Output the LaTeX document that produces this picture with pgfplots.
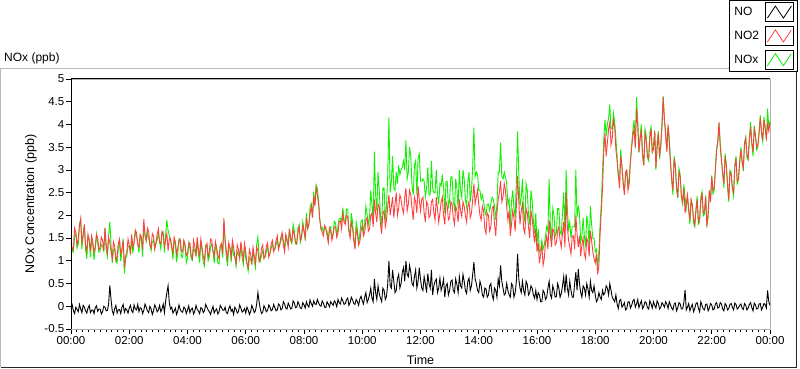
\documentclass[border=0pt]{standalone}
\usepackage{fontspec}
\setmainfont{Liberation Sans}
\usepackage{pgfplots}
\usepackage{pgfplotstable}
\pgfplotsset{compat=1.18}
\definecolor{noc}{RGB}{0,0,0}
\definecolor{notwo}{RGB}{255,64,64}
\definecolor{noxc}{RGB}{16,240,0}
\pgfplotstableread{
t no no2 nox
0 -0.05 1.45 1.40
2.5 0.03 1.22 1.25
5 -0.10 1.30 1.20
7.5 -0.16 1.72 1.56
10 -0.02 1.62 1.60
12.5 -0.07 1.35 1.28
15 -0.12 1.48 1.36
17.5 0.04 1.78 1.82
20 -0.06 1.94 1.88
22.5 -0.14 1.40 1.26
25 0.02 1.55 1.57
27.5 -0.02 1.80 1.78
30 -0.10 1.35 1.25
32.5 -0.15 1.20 1.05
35 -0.04 1.58 1.54
37.5 0.02 1.45 1.47
40 -0.14 1.22 1.08
42.5 -0.09 1.55 1.46
45 -0.08 1.42 1.34
47.5 -0.16 1.18 1.02
50 -0.03 1.30 1.27
52.5 0.01 1.58 1.59
55 -0.11 1.50 1.39
57.5 -0.06 1.25 1.19
60 -0.06 1.28 1.22
62.5 -0.17 1.52 1.35
65 -0.12 1.45 1.33
67.5 0.00 1.22 1.22
70 -0.02 1.73 1.71
72.5 -0.10 1.35 1.25
75 -0.09 1.18 1.09
77.5 0.05 1.52 1.57
80 0.46 1.40 1.86
82.5 0.15 1.20 1.35
85 -0.10 1.05 0.95
87.5 -0.18 1.42 1.24
90 -0.05 1.32 1.27
92.5 0.02 1.00 1.02
95 -0.15 1.10 0.95
97.5 -0.08 1.38 1.30
100 -0.07 1.48 1.41
102.5 -0.16 1.15 0.99
105 -0.02 1.25 1.23
107.5 0.04 1.45 1.49
110 -0.13 0.85 0.72
112.5 -0.05 1.10 1.05
115 -0.08 1.20 1.12
117.5 -0.15 1.48 1.33
120 -0.04 1.35 1.31
122.5 0.02 1.15 1.17
125 -0.10 1.58 1.48
127.5 -0.14 1.30 1.16
130 0.03 1.40 1.43
132.5 -0.06 1.68 1.62
135 -0.08 1.62 1.54
137.5 0.04 1.35 1.39
140 -0.12 1.30 1.18
142.5 -0.03 1.58 1.55
145 -0.05 1.52 1.47
147.5 -0.16 1.25 1.09
150 -0.09 1.92 1.83
152.5 0.05 1.55 1.60
155 -0.02 1.45 1.43
157.5 -0.10 1.72 1.62
160 -0.14 1.65 1.51
162.5 0.00 1.35 1.35
165 -0.06 1.28 1.22
167.5 -0.18 1.60 1.42
170 -0.10 1.55 1.45
172.5 0.03 1.25 1.28
175 -0.03 1.40 1.37
177.5 -0.12 1.58 1.46
180 -0.08 1.70 1.62
182.5 0.02 1.40 1.42
185 -0.12 1.38 1.26
187.5 -0.06 1.65 1.59
190 0.05 1.58 1.63
192.5 -0.14 1.32 1.18
195 0.12 1.45 1.57
197.5 0.30 1.60 1.90
200 0.45 1.22 1.67
202.5 0.08 1.48 1.56
205 -0.06 1.50 1.44
207.5 -0.02 1.30 1.28
210 -0.15 1.18 1.03
212.5 -0.10 1.52 1.42
215 -0.04 1.42 1.38
217.5 -0.18 1.15 0.97
220 -0.10 1.28 1.18
222.5 0.03 1.45 1.48
225 -0.07 1.48 1.41
227.5 -0.12 1.22 1.10
230 -0.13 1.20 1.07
232.5 -0.02 1.45 1.43
235 -0.05 1.36 1.31
237.5 -0.16 1.12 0.96
240 -0.09 1.15 1.06
242.5 0.01 1.38 1.39
245 -0.14 1.40 1.26
247.5 -0.07 1.12 1.05
250 -0.04 1.05 1.01
252.5 -0.17 1.45 1.28
255 -0.11 1.32 1.21
257.5 0.02 1.10 1.12
260 -0.07 1.52 1.45
262.5 -0.10 1.25 1.15
265 -0.16 1.12 0.96
267.5 -0.03 1.48 1.45
270 -0.05 1.28 1.23
272.5 -0.14 1.10 0.96
275 -0.10 0.98 0.88
277.5 0.04 1.30 1.34
280 -0.02 1.38 1.36
282.5 -0.08 1.08 1.00
285 -0.12 1.20 1.08
287.5 -0.18 1.48 1.30
290 -0.08 1.45 1.37
292.5 0.00 1.22 1.22
295 -0.15 1.10 0.95
297.5 -0.09 1.42 1.33
300 -0.06 1.30 1.24
302.5 -0.17 1.12 0.95
305 -0.12 1.05 0.93
307.5 0.02 1.32 1.34
310 -0.03 1.38 1.35
312.5 -0.08 1.15 1.07
315 -0.09 1.94 1.85
317.5 -0.02 1.45 1.43
320 -0.14 1.22 1.08
322.5 -0.16 1.05 0.89
325 -0.05 1.40 1.35
327.5 0.01 1.28 1.29
330 -0.11 1.08 0.97
332.5 -0.07 1.45 1.38
335 -0.18 1.30 1.12
337.5 -0.02 1.10 1.08
340 -0.07 0.95 0.88
342.5 -0.15 1.35 1.20
345 -0.12 1.25 1.13
347.5 0.03 1.05 1.08
350 -0.04 1.42 1.38
352.5 -0.13 1.20 1.07
355 -0.10 1.02 0.92
357.5 -0.05 1.38 1.33
360 -0.15 1.20 1.05
362.5 -0.02 0.95 0.93
365 -0.08 0.85 0.77
367.5 -0.18 1.25 1.07
370 -0.12 1.15 1.03
372.5 0.02 0.92 0.94
375 -0.05 1.30 1.25
377.5 -0.14 1.12 0.98
380 -0.10 0.95 0.85
382.5 0.05 1.30 1.35
385 0.30 1.22 1.52
387.5 0.10 0.98 1.08
390 -0.06 1.05 0.99
392.5 -0.16 1.28 1.12
395 -0.13 1.35 1.22
397.5 0.01 1.05 1.06
400 -0.04 1.12 1.08
402.5 -0.12 1.32 1.20
405 -0.09 1.40 1.31
407.5 0.03 1.08 1.11
410 -0.02 1.18 1.16
412.5 -0.10 1.38 1.28
415 -0.07 1.45 1.38
417.5 0.04 1.20 1.24
420 -0.03 1.28 1.25
422.5 -0.10 1.45 1.35
425 -0.08 1.55 1.47
427.5 0.05 1.25 1.30
430 0.02 1.35 1.37
432.5 -0.08 1.52 1.44
435 -0.05 1.62 1.57
437.5 0.10 1.35 1.45
440 0.05 1.20 1.25
442.5 -0.04 1.58 1.54
445 -0.06 1.48 1.42
447.5 0.07 1.30 1.37
450 0.01 1.70 1.71
452.5 -0.06 1.50 1.44
455 -0.04 1.42 1.38
457.5 0.12 1.68 1.80
460 0.08 1.58 1.66
462.5 -0.03 1.40 1.37
465 -0.02 1.38 1.36
467.5 0.10 1.62 1.72
470 0.04 1.75 1.79
472.5 -0.04 1.45 1.41
475 -0.05 1.55 1.50
477.5 0.08 1.78 1.86
480 0.03 1.65 1.68
482.5 -0.04 1.50 1.46
485 0.10 1.95 2.05
487.5 0.02 1.70 1.72
490 -0.02 1.80 1.78
492.5 0.14 2.05 2.19
495 0.06 2.20 2.26
497.5 0.00 1.95 1.95
500 0.12 2.40 2.52
502.5 0.05 2.20 2.25
505 0.04 2.62 2.66
507.5 0.15 2.45 2.60
510 0.08 2.25 2.33
512.5 0.02 1.90 1.92
515 0.00 1.70 1.70
517.5 0.12 1.62 1.74
520 0.07 1.55 1.62
522.5 -0.02 1.78 1.76
525 -0.03 1.72 1.69
527.5 0.10 1.55 1.65
530 0.05 1.40 1.45
532.5 -0.01 1.72 1.71
535 0.10 1.65 1.75
537.5 0.06 1.45 1.51
540 0.02 1.58 1.60
542.5 0.12 1.75 1.87
545 0.08 1.75 1.83
547.5 -0.01 1.52 1.51
550 0.15 1.62 1.77
552.5 0.08 1.85 1.93
555 0.05 1.88 1.93
557.5 0.18 1.70 1.88
560 0.12 2.05 2.17
562.5 0.04 1.85 1.89
565 0.06 1.80 1.86
567.5 0.14 2.00 2.14
570 0.18 1.95 2.13
572.5 0.02 1.65 1.67
575 0.08 1.50 1.58
577.5 0.20 1.85 2.05
580 0.14 1.72 1.86
582.5 0.06 1.45 1.51
585 0.04 1.25 1.29
587.5 0.15 1.70 1.85
590 0.10 1.60 1.70
592.5 0.02 1.35 1.37
595 0.16 1.42 1.58
597.5 0.22 1.65 1.87
600 0.12 1.78 1.90
602.5 0.05 1.55 1.60
605 0.20 1.62 1.82
607.5 0.30 1.90 2.20
610 0.08 1.95 2.03
612.5 0.15 1.65 1.80
615 0.25 1.70 1.95
617.5 0.40 2.00 2.55
620 0.18 2.05 2.23
622.5 0.10 1.75 1.85
625 0.60 2.35 3.40
627.5 0.30 2.05 2.45
630 0.15 1.85 2.10
632.5 0.45 2.25 2.95
635 0.28 2.20 2.55
637.5 0.18 1.80 2.00
640 0.10 1.60 1.78
642.5 0.40 2.05 2.60
645 0.35 2.10 2.60
647.5 0.15 1.75 1.90
650 0.22 1.90 2.20
652.5 0.50 2.20 2.90
655 1.00 2.45 4.15
657.5 0.45 2.00 2.50
660 0.40 2.20 2.75
662.5 0.80 2.40 3.30
665 0.55 1.95 2.60
667.5 0.30 2.25 2.55
670 0.35 2.50 2.95
672.5 0.60 2.00 2.70
675 0.70 2.15 3.10
677.5 0.40 2.45 2.90
680 0.50 2.35 3.00
682.5 0.75 2.15 3.05
685 0.85 2.05 3.20
687.5 0.55 2.40 3.00
690 1.00 2.60 3.65
692.5 0.70 2.10 2.80
695 0.65 2.25 2.95
697.5 0.90 2.55 3.50
700 0.75 2.45 3.30
702.5 0.50 2.15 2.65
705 0.45 1.90 2.45
707.5 0.65 2.40 3.10
710 0.80 2.30 3.20
712.5 0.40 2.05 2.45
715 0.55 2.65 3.25
717.5 0.85 2.35 3.35
720 0.60 2.10 2.75
722.5 0.40 2.35 2.75
725 0.35 2.40 2.80
727.5 0.65 2.05 2.75
730 0.50 1.85 2.40
732.5 0.30 2.30 2.60
735 0.72 2.25 3.05
737.5 0.50 1.95 2.45
740 0.40 2.00 2.45
742.5 0.80 2.30 3.20
745 0.25 2.35 2.60
747.5 0.45 2.05 2.50
750 0.55 1.90 2.50
752.5 0.60 2.40 3.00
755 0.30 2.15 2.45
757.5 0.40 1.85 2.25
760 0.62 2.05 2.70
762.5 0.35 2.30 2.65
765 0.45 2.40 2.90
767.5 0.60 2.00 2.60
770 0.20 1.80 2.05
772.5 0.45 2.30 2.75
775 0.50 2.20 2.75
777.5 0.25 1.90 2.15
780 0.35 1.95 2.35
782.5 0.55 2.30 2.85
785 0.58 2.25 2.85
787.5 0.35 1.95 2.30
790 0.30 1.80 2.15
792.5 0.60 2.20 2.80
795 0.48 2.10 2.60
797.5 0.30 1.85 2.15
800 0.65 2.35 3.00
802.5 0.45 2.10 2.55
805 0.40 1.98 2.40
807.5 0.70 2.30 3.00
810 0.55 2.20 2.80
812.5 0.35 2.00 2.35
815 0.28 1.85 2.18
817.5 0.55 2.20 2.75
820 0.62 2.30 2.95
822.5 0.35 1.95 2.30
825 0.45 2.05 2.55
827.5 0.70 2.35 3.05
830 0.97 2.70 3.93
832.5 0.60 2.25 2.85
835 0.50 2.40 2.95
837.5 0.35 2.55 2.90
840 0.30 2.25 2.55
842.5 0.55 2.00 2.55
845 0.45 1.90 2.35
847.5 0.25 2.20 2.45
850 0.20 2.10 2.30
852.5 0.40 1.70 2.10
855 0.38 1.60 2.00
857.5 0.20 2.05 2.25
860 0.25 2.00 2.25
862.5 0.45 1.65 2.10
865 0.50 1.75 2.25
867.5 0.25 2.15 2.40
870 0.15 2.20 2.35
872.5 0.40 1.80 2.20
875 0.35 1.55 1.90
877.5 0.20 2.05 2.25
880 0.60 2.35 2.95
882.5 0.45 2.50 2.95
885 0.90 2.75 3.60
887.5 0.55 2.30 2.85
890 0.40 2.40 2.80
892.5 0.25 2.70 2.95
895 0.28 2.55 2.85
897.5 0.50 2.20 2.70
900 0.35 1.90 2.25
902.5 0.25 2.10 2.35
905 0.20 1.55 1.75
907.5 0.50 1.80 2.30
910 0.45 2.10 2.55
912.5 0.20 1.95 2.15
915 0.30 1.65 1.95
917.5 0.55 2.20 2.75
920 1.15 2.86 3.85
922.5 0.60 2.30 2.90
925 0.40 1.80 2.20
927.5 0.30 2.10 2.40
930 0.55 2.25 2.80
932.5 0.35 1.70 2.05
935 0.25 1.60 1.85
937.5 0.55 2.15 2.70
940 0.48 2.05 2.55
942.5 0.25 1.75 2.00
945 0.30 1.50 1.80
947.5 0.45 2.10 2.55
950 0.40 1.95 2.35
952.5 0.25 1.65 1.90
955 0.18 1.40 1.60
957.5 0.35 1.70 2.05
960 0.15 1.20 1.35
962.5 0.30 1.40 1.70
965 0.25 0.95 1.20
967.5 0.10 1.15 1.25
970 0.10 1.35 1.45
972.5 0.35 0.90 1.25
975 0.30 1.05 1.35
977.5 0.15 1.40 1.55
980 0.20 1.55 1.75
982.5 0.40 1.25 1.65
985 0.55 1.90 2.80
987.5 0.25 1.55 1.80
990 0.18 1.30 1.48
992.5 0.45 1.70 2.15
995 0.35 1.65 2.00
997.5 0.20 1.35 1.55
1000 0.22 1.40 1.62
1002.5 0.50 1.65 2.15
1005 0.40 1.75 2.15
1007.5 0.20 1.45 1.65
1010 0.28 1.30 1.58
1012.5 0.45 1.60 2.05
1015 0.65 1.85 2.50
1017.5 0.30 1.30 1.60
1020 0.70 2.50 3.00
1022.5 0.40 1.75 2.15
1025 0.25 1.45 1.70
1027.5 0.55 1.30 1.85
1030 0.35 1.15 1.50
1032.5 0.20 1.55 1.75
1035 0.20 1.55 1.75
1037.5 0.50 1.25 1.75
1040 0.75 2.00 3.00
1042.5 0.35 1.60 1.95
1045 0.82 1.30 2.20
1047.5 0.50 1.55 2.05
1050 0.30 1.10 1.40
1052.5 0.20 1.35 1.55
1055 0.45 1.50 1.95
1057.5 0.40 1.15 1.55
1060 0.25 1.05 1.30
1062.5 0.50 1.50 2.00
1065 0.38 1.40 1.78
1067.5 0.20 1.10 1.30
1070 0.55 1.65 2.20
1072.5 0.35 1.45 1.80
1075 0.30 1.20 1.50
1077.5 0.45 1.05 1.50
1080 0.25 0.95 1.20
1082.5 0.10 1.15 1.25
1085 0.15 0.70 0.85
1087.5 0.30 0.90 1.20
1090 0.20 1.60 1.80
1092.5 0.15 2.10 2.25
1095 0.35 2.60 2.95
1097.5 0.25 3.40 3.65
1100 0.30 3.80 4.10
1102.5 0.45 3.30 3.75
1105 0.40 3.60 4.00
1107.5 0.25 3.90 4.15
1110 0.50 4.05 4.44
1112.5 0.35 3.55 3.90
1115 0.20 3.70 3.90
1117.5 0.15 4.10 4.25
1120 0.10 3.95 4.05
1122.5 0.25 3.45 3.70
1125 0.05 3.20 3.30
1127.5 -0.05 2.90 2.85
1130 0.12 2.60 2.75
1132.5 0.15 3.30 3.45
1135 -0.02 3.10 3.08
1137.5 0.02 2.70 2.72
1140 0.08 2.45 2.55
1142.5 -0.08 2.95 2.87
1145 -0.05 3.00 2.95
1147.5 0.10 2.55 2.65
1150 0.10 2.70 2.85
1152.5 -0.04 3.20 3.16
1155 0.02 3.50 3.55
1157.5 0.12 3.75 3.87
1160 0.15 3.90 4.10
1162.5 -0.02 3.50 3.48
1165 0.05 4.35 4.60
1167.5 0.15 3.95 4.10
1170 -0.03 3.40 3.38
1172.5 0.05 3.70 3.75
1175 0.12 3.85 4.00
1177.5 -0.05 3.35 3.30
1180 0.00 3.10 3.10
1182.5 0.10 3.80 3.90
1185 0.08 3.65 3.75
1187.5 -0.03 3.30 3.27
1190 -0.06 3.25 3.20
1192.5 0.12 3.70 3.82
1195 0.05 3.90 3.95
1197.5 -0.04 3.40 3.36
1200 0.10 3.45 3.55
1202.5 0.02 3.85 3.87
1205 -0.04 3.05 3.00
1207.5 0.12 3.50 3.62
1210 0.06 3.80 3.85
1212.5 -0.06 3.30 3.24
1215 -0.02 3.55 3.52
1217.5 0.08 3.95 4.03
1220 0.04 4.60 4.62
1222.5 -0.02 4.10 4.08
1225 0.10 3.75 3.85
1227.5 0.05 3.40 3.45
1230 -0.05 4.00 3.95
1232.5 0.10 3.60 3.70
1235 0.03 3.15 3.18
1237.5 -0.04 2.80 2.76
1240 -0.08 2.55 2.45
1242.5 0.05 3.25 3.30
1245 0.07 3.05 3.12
1247.5 -0.10 2.65 2.55
1250 -0.03 2.40 2.38
1252.5 0.08 2.95 3.03
1255 0.05 2.85 2.90
1257.5 -0.06 2.45 2.39
1260 -0.06 2.30 2.25
1262.5 0.08 2.60 2.68
1265 0.36 2.05 2.40
1267.5 -0.08 2.25 2.17
1270 -0.02 2.45 2.42
1272.5 0.06 2.10 2.16
1275 -0.10 1.90 1.80
1277.5 -0.02 2.35 2.33
1280 0.04 2.20 2.25
1282.5 -0.12 1.95 1.83
1285 -0.05 1.80 1.75
1287.5 0.06 2.10 2.16
1290 0.08 2.35 2.42
1292.5 -0.04 1.85 1.81
1295 -0.12 1.95 1.85
1297.5 0.10 2.30 2.40
1300 0.02 2.50 2.52
1302.5 -0.06 2.05 1.99
1305 -0.08 2.10 2.02
1307.5 0.04 2.40 2.44
1310 0.05 1.75 1.80
1312.5 -0.10 2.05 1.95
1315 -0.04 2.55 2.50
1317.5 0.06 2.30 2.36
1320 0.03 2.85 2.88
1322.5 -0.08 2.55 2.47
1325 -0.06 2.60 2.55
1327.5 0.05 3.00 3.05
1330 0.08 3.40 3.48
1332.5 -0.04 3.65 3.61
1335 -0.02 4.05 4.02
1337.5 0.08 3.50 3.58
1340 0.05 3.20 3.25
1342.5 -0.06 2.95 2.89
1345 -0.10 2.70 2.60
1347.5 0.06 3.30 3.36
1350 0.02 3.10 3.12
1352.5 -0.08 2.70 2.62
1355 -0.05 2.35 2.30
1357.5 0.04 2.95 2.99
1360 0.06 2.90 2.95
1362.5 -0.02 2.60 2.58
1365 -0.08 2.50 2.42
1367.5 0.07 3.05 3.12
1370 0.04 3.25 3.30
1372.5 -0.06 2.75 2.69
1375 -0.03 2.80 2.78
1377.5 0.02 3.15 3.17
1380 0.05 3.45 3.50
1382.5 -0.04 3.20 3.16
1385 -0.07 3.05 2.98
1387.5 0.06 3.55 3.61
1390 0.02 3.70 3.72
1392.5 -0.08 3.35 3.27
1395 -0.04 3.25 3.22
1397.5 0.04 3.65 3.69
1400 0.08 3.95 4.05
1402.5 -0.03 3.60 3.57
1405 -0.10 3.40 3.30
1407.5 0.07 3.90 3.97
1410 0.03 3.75 3.78
1412.5 -0.06 3.50 3.44
1415 -0.05 3.55 3.50
1417.5 0.05 3.80 3.85
1420 0.06 4.15 4.20
1422.5 -0.08 3.85 3.77
1425 -0.02 3.65 3.62
1427.5 0.06 4.10 4.16
1430 0.04 3.90 3.95
1432.5 -0.04 3.70 3.66
1435 0.35 4.00 4.35
1437.5 0.10 3.85 3.95
1440 0.02 4.05 4.08
}\datatable

\begin{document}
\begin{tikzpicture}
\useasboundingbox (-71pt,-40pt) rectangle (729pt,329pt);
% outer panel frame
\draw[gray!55, line width=1pt] (-70pt,-38pt) -- (-70pt,260pt) -- (725pt,260pt);
\draw[black!85, line width=1pt] (-70pt,-38pt) -- (725pt,-38pt) -- (725pt,260pt);
\node[anchor=west, inner sep=0pt, font=\fontsize{12}{14}\selectfont] at (-67pt,271pt) {NOx (ppb)};
\begin{axis}[
  scale only axis,
  width=699pt, height=250pt,
  xmin=0, xmax=1440, ymin=-0.5, ymax=5,
  xtick={0,120,240,360,480,600,720,840,960,1080,1200,1320,1440},
  xticklabels={00:00,02:00,04:00,06:00,08:00,10:00,12:00,14:00,16:00,18:00,20:00,22:00,00:00},
  minor x tick num=9,
  ytick={-0.5,0,0.5,1,1.5,2,2.5,3,3.5,4,4.5,5},
  xtick pos=left, ytick pos=left,
  tick align=outside,
  major tick length=5pt, minor tick length=3pt,
  axis line style={gray!60},
  tick style={black, line width=0.8pt},
  /pgf/number format/assume math mode=true,
  ticklabel style={font=\fontsize{11.5}{13}\selectfont},
  yticklabel style={inner sep=1.5pt},
  xticklabel style={inner sep=2pt},
  xlabel={Time},
  ylabel={NOx Concentration (ppb)},
  label style={font=\fontsize{12.5}{14}\selectfont},
  xlabel style={at={([yshift=-31pt]axis description cs:0.5,0)}, anchor=center},
  ylabel style={at={([xshift=-40pt]axis description cs:0,0.5)}, anchor=center},
  legend style={at={(axis description cs:1,1)}, anchor=north east,
    xshift=27pt, yshift=79pt, draw=black, fill=white,
    font=\fontsize{12}{14}\selectfont, inner xsep=3pt, inner ysep=2pt,
    row sep=4pt, column sep=4pt},
  legend cell align=left,
  legend plot pos=right,
  reverse legend,
  legend image code/.code={
    \draw[black, line width=0.8pt, fill=white] (0pt,-9.5pt) rectangle (28pt,9.5pt);
    \draw[#1, line width=0.8pt] (2pt,-6pt) -- (10pt,6pt) -- (18pt,-6pt) -- (26pt,6pt);
  },
]
\addplot[noxc, line width=0.9pt] table[x=t, y=nox] {\datatable};
\addplot[notwo, line width=0.9pt] table[x=t, y=no2] {\datatable};
\addplot[noc, line width=0.9pt] table[x=t, y=no] {\datatable};
\legend{NOx,NO2,NO}
\end{axis}
\draw[black, line width=1pt] (0pt,0pt) -- (0pt,250pt) -- (699pt,250pt);
\end{tikzpicture}
\end{document}
